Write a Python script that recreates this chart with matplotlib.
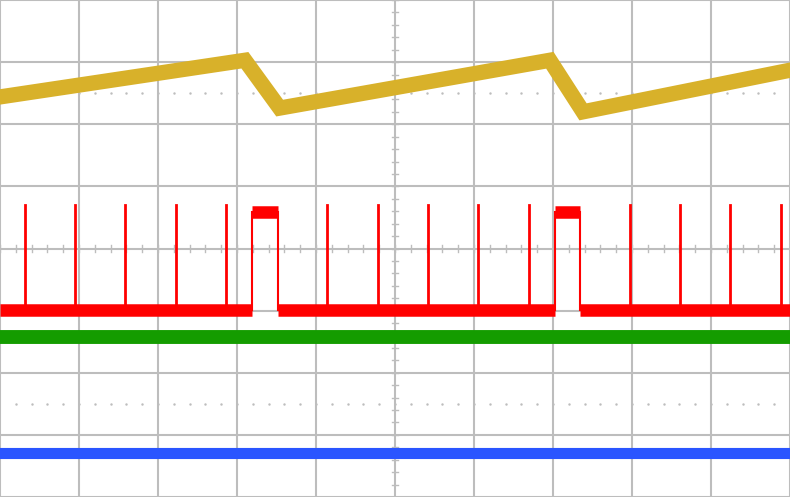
import numpy as np
import matplotlib
matplotlib.use("Agg")
import matplotlib.pyplot as plt

# Yellow sawtooth breakpoints (divisions)
yel_x = [0.0, 3.10, 3.54, 6.96, 7.38, 10.0]
yel_y = [6.44, 7.03, 6.26, 7.03, 6.20, 6.87]

# Red pulse train
red_base = 3.01
red_spike_top = 4.70
red_spikes = [0.32, 0.95, 1.58, 2.23, 2.86, 4.14, 4.78, 5.42, 6.05, 6.70, 7.97, 8.61, 9.24, 9.88]
red_wide = [(3.19, 3.52), (7.03, 7.34)]
red_wide_top = 4.59

green_level = 2.58
blue_level = 0.71

fig = plt.figure(figsize=(7.9, 4.97), dpi=100)
ax = fig.add_axes([0, 0, 1, 1])
ax.set_xlim(0, 10)
ax.set_ylim(0, 8)
ax.axis('off')

grid_c = '#bdbdbd'
for i in range(11):
    ax.axvline(i, color=grid_c, lw=1.5, zorder=1)
for j in range(9):
    ax.axhline(j, color=grid_c, lw=1.5, zorder=1)
for t in np.arange(0, 8.01, 0.2):
    ax.plot([4.96, 5.04], [t, t], color=grid_c, lw=1, zorder=1)
for t in np.arange(0, 10.01, 0.2):
    ax.plot([t, t], [3.94, 4.06], color=grid_c, lw=1, zorder=1)
for yy in (6.5, 1.5):
    ax.plot(np.arange(0.2, 10, 0.2), [yy]*49, ls='none', marker='.', ms=1.5, color=grid_c, zorder=1)

# yellow
ax.plot(yel_x, yel_y, color='#d8b12a', lw=11, solid_joinstyle='miter', zorder=3)

# red spikes
for s in red_spikes:
    ax.plot([s, s], [red_base, red_spike_top], color='#ff0000', lw=2, zorder=4)
# red baseline segments, broken by wide pulses
seg_start = 0.0
for a, b in red_wide:
    ax.plot([seg_start, a], [red_base, red_base], color='#ff0000', lw=9, solid_capstyle='butt', zorder=4)
    ax.plot([a, a], [red_base, red_wide_top], color='#ff0000', lw=1.5, zorder=4)
    ax.plot([b, b], [red_base, red_wide_top], color='#ff0000', lw=1.5, zorder=4)
    ax.plot([a, b], [red_wide_top, red_wide_top], color='#ff0000', lw=9, solid_capstyle='butt', zorder=4)
    seg_start = b
ax.plot([seg_start, 10], [red_base, red_base], color='#ff0000', lw=9, solid_capstyle='butt', zorder=4)

# green, blue
ax.plot([0, 10], [green_level, green_level], color='#149c00', lw=10, zorder=4)
ax.plot([0, 10], [blue_level, blue_level], color='#2a55ff', lw=8, zorder=4)

fig.savefig('out.png', dpi=100)
